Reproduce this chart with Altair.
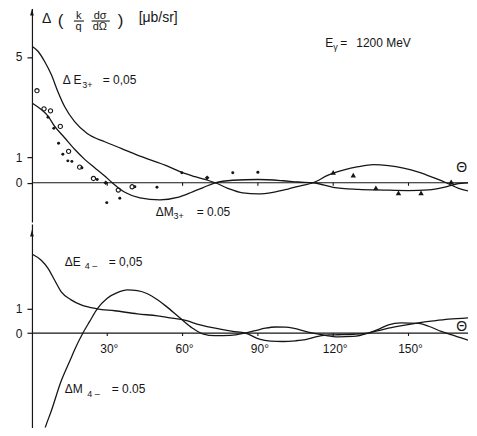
import altair as alt
import pandas as pd

FONT = "Liberation Sans"
INK = "#161616"
X_MAX = 173.7

# ---------------- upper panel (E_gamma = 1200 MeV): E3+ and M3+ ----------------
e3_theta = [0, 2.4, 5, 7.7, 10.3, 13, 17, 22, 29, 35.5, 42, 48, 54, 60, 65, 70, 73, 78, 84, 90,
            96, 102, 107, 112, 118, 124, 130, 136, 142, 148, 154, 160, 165, 170, 174]
e3_val = [5.43, 5.23, 4.83, 4.3, 3.63, 3.03, 2.43, 1.96, 1.63, 1.37, 1.1, 0.88, 0.66, 0.4, 0.24, 0.1, 0.0, -0.22, -0.4, -0.44,
          -0.38, -0.25, -0.12, 0.0, 0.3, 0.5, 0.64, 0.72, 0.68, 0.58, 0.42, 0.2, 0.0, -0.22, -0.33]

m3_theta = [0, 3.7, 6.4, 9, 13, 17, 21, 25, 29, 32, 37, 43, 51, 58, 64, 68, 73, 80, 90, 100,
            106, 112, 120, 130, 140, 150, 158, 164, 169, 174]
m3_val = [3.17, 2.91, 2.65, 2.25, 1.79, 1.33, 0.93, 0.6, 0.27, 0.0, -0.38, -0.6, -0.68, -0.58, -0.36, -0.2, 0.0, 0.1, 0.13, 0.08,
          0.03, 0.0, -0.18, -0.26, -0.29, -0.31, -0.28, -0.18, -0.05, 0.0]

open_theta = [2.0, 4.8, 7.4, 11.3, 14.6, 19.0, 24.5, 34.4, 39.9]
open_val = [3.66, 2.94, 2.86, 2.24, 1.25, 0.62, 0.17, -0.29, -0.16]

dot_theta = [6.4, 8.7, 10.6, 12.3, 14.3, 15.9, 19.9, 26.0, 29.8, 35.0, 41.0, 49.8, 59.7, 80.0, 90.0]
dot_val = [2.6, 2.17, 1.57, 1.13, 0.87, 0.85, 0.6, 0.13, -0.79, -0.62, -0.16, -0.18, 0.4, 0.4, 0.42]

diam_theta = [29.4, 69.8]
diam_val = [0.0, 0.2]

tri_theta = [120, 128, 137, 146, 155, 167]
tri_val = [0.41, 0.3, -0.2, -0.4, -0.4, 0.04]

# ---------------- lower panel: E4- and M4- ----------------
e4_theta = [0, 3.7, 6.4, 9, 11.6, 15.6, 19.6, 26, 33, 42, 50, 55, 60, 67, 73, 80, 85, 90.6, 95, 100,
            105, 109, 114, 118, 122, 128, 134, 138, 142, 148, 154, 160, 166, 174]
e4_val = [3.26, 3.0, 2.67, 2.19, 1.71, 1.37, 1.16, 1.0, 0.92, 0.79, 0.71, 0.63, 0.55, 0.34, 0.2, 0.07, 0.0, -0.25, -0.33, -0.35,
          -0.32, -0.27, -0.14, -0.08, -0.07, -0.05, 0.0, 0.1, 0.2, 0.32, 0.42, 0.5, 0.57, 0.63]

m4_theta = [3.5, 5, 7.7, 11.6, 15.6, 17, 20.3, 23, 26, 30, 34, 38, 42, 46, 50, 53.5, 59, 64, 68, 73,
            79, 85, 89, 93, 97, 101, 104, 110, 116, 122, 128, 134, 138, 142, 147, 154, 158, 163, 167, 171, 174]
m4_val = [-4.6, -4.0, -3.22, -1.99, -1.03, -0.69, 0.0, 0.48, 1.0, 1.44, 1.67, 1.78, 1.75, 1.62, 1.37, 1.1, 0.62, 0.2, -0.03, -0.11,
          -0.1, 0.0, 0.1, 0.2, 0.25, 0.24, 0.2, 0.04, -0.08, -0.16, -0.14, 0.0, 0.15, 0.34, 0.42, 0.4, 0.28, 0.07, -0.07, -0.2, -0.3]

tick_deg = [30, 60, 90, 120, 150]
tick_text = ["30°", "60°", "90°", "120°", "150°"]

top_ticks = [0, 1, 5]
bot_ticks = [0, 1]

# annotation placement (degrees, value, text, font size)
top_notes = [
    (4.0, 6.50, "Δ", 14), (10.3, 6.44, "(", 17),
    (17.5, 6.63, "k", 11), (17.3, 6.18, "q", 11),
    (24.6, 6.63, "dσ", 11), (24.2, 6.18, "dΩ", 11),
    (34.2, 6.44, ")", 17), (42.5, 6.54, "[μb/sr]", 14),
    (116.8, 5.56, "E", 12), (120.0, 5.40, "γ", 9), (122.8, 5.56, "=", 12), (129.2, 5.56, "1200 MeV", 12),
    (12.3, 4.08, "Δ E", 12), (20.0, 3.88, "3+", 9), (28.2, 4.08, "= 0,05", 12),
    (49.3, -1.16, "ΔM", 12), (56.4, -1.34, "3+", 9), (65.6, -1.16, "= 0.05", 12),
    (169.0, 0.58, "Θ", 14),
]
top_bars = [(16.7, 20.7, 6.43), (23.8, 31.0, 6.43)]

bot_notes = [
    (13.1, 2.93, "ΔE", 12), (21.0, 2.77, "4 –", 9), (30.6, 2.93, "= 0,05", 12),
    (13.1, -2.33, "ΔM", 12), (22.0, -2.50, "4 –", 9), (31.8, -2.33, "= 0.05", 12),
    (169.0, 0.26, "Θ", 14),
]

xscale = alt.Scale(domain=[0, X_MAX], nice=False, zero=False)
X = alt.X("t:Q", scale=xscale, axis=None)


def yenc(domain, ticks):
    return alt.Y(
        "v:Q",
        scale=alt.Scale(domain=domain, nice=False, zero=False),
        axis=alt.Axis(values=ticks, title=None, grid=False, tickSize=5, labelPadding=5,
                      domainColor=INK, tickColor=INK, labelColor=INK, labelFont=FONT,
                      labelFontSize=12, domainWidth=1.2, tickWidth=1.2,
                      minExtent=24, maxExtent=24, labelAngle=0),
    )


def curve(theta, val, Y):
    return alt.Chart(pd.DataFrame({"t": theta, "v": val})).mark_line(
        color=INK, strokeWidth=1.3, interpolate="monotone", clip=True
    ).encode(x=X, y=Y)


def frame_layers(Y, arrow_v, tick_len, with_labels, label_v):
    axis_df = pd.DataFrame({"t": [0.0], "t2": [X_MAX], "v": [0.0]})
    axis_rule = alt.Chart(axis_df).mark_rule(color=INK, strokeWidth=1.2).encode(
        x=X, x2="t2:Q", y=Y)
    tk = pd.DataFrame({"t": tick_deg, "v": [0.0] * len(tick_deg), "v2": [-tick_len] * len(tick_deg)})
    ticks = alt.Chart(tk).mark_rule(color=INK, strokeWidth=1.1).encode(x=X, y=Y, y2="v2:Q")
    arrow = alt.Chart(pd.DataFrame({"t": [0.0], "v": [arrow_v]})).mark_point(
        shape="M0,-1L0.55,1L-0.55,1Z", filled=True, size=45, color=INK, opacity=1
    ).encode(x=X, y=Y)
    layers = [axis_rule, ticks, arrow]
    if with_labels:
        lab = pd.DataFrame({"t": [d + 0.8 for d in tick_deg], "v": [label_v] * len(tick_deg), "text": tick_text})
        layers.append(alt.Chart(lab).mark_text(font=FONT, fontSize=12, color=INK, align="center",
                                               baseline="middle", clip=True).encode(x=X, y=Y, text="text:N"))
    return layers


def note_layer(rows, Y):
    df = pd.DataFrame(rows, columns=["t", "v", "text", "size"])
    return alt.Chart(df).mark_text(align="left", baseline="middle", font=FONT, color=INK, clip=True).encode(
        x=X, y=Y, text="text:N", size=alt.Size("size:Q", scale=None))


# ---- top panel ----
Yt = yenc([-1.56, 6.93], top_ticks)
bars_df = pd.DataFrame(top_bars, columns=["t", "t2", "v"])
top = alt.layer(
    *frame_layers(Yt, 6.78, 0.12, False, 0),
    curve(e3_theta, e3_val, Yt),
    curve(m3_theta, m3_val, Yt),
    alt.Chart(pd.DataFrame({"t": open_theta, "v": open_val})).mark_point(
        shape="circle", filled=False, size=18, color=INK, strokeWidth=1.1, opacity=1).encode(x=X, y=Yt),
    alt.Chart(pd.DataFrame({"t": dot_theta, "v": dot_val})).mark_point(
        shape="circle", filled=True, size=9, color=INK, opacity=1).encode(x=X, y=Yt),
    alt.Chart(pd.DataFrame({"t": diam_theta, "v": diam_val})).mark_point(
        shape="diamond", filled=True, size=22, color=INK, opacity=1).encode(x=X, y=Yt),
    alt.Chart(pd.DataFrame({"t": tri_theta, "v": tri_val})).mark_point(
        shape="triangle-up", filled=True, size=30, color=INK, opacity=1).encode(x=X, y=Yt),
    alt.Chart(bars_df).mark_rule(color=INK, strokeWidth=1.1).encode(x=X, x2="t2:Q", y=Yt),
    note_layer(top_notes, Yt),
).properties(width=437, height=214)

# ---- bottom panel ----
Yb = yenc([-3.9, 4.5], bot_ticks)
bottom = alt.layer(
    *frame_layers(Yb, 4.12, 0.12, True, -0.65),
    curve(e4_theta, e4_val, Yb),
    curve(m4_theta, m4_val, Yb),
    note_layer(bot_notes, Yb),
).properties(width=437, height=204)

chart = alt.vconcat(top, bottom, spacing=2).properties(
    padding={"left": 0, "top": 0, "right": 0, "bottom": 0}, background="white"
).configure_view(stroke=None)

chart.save("out.html", embed_options={"renderer": "svg", "actions": False})
